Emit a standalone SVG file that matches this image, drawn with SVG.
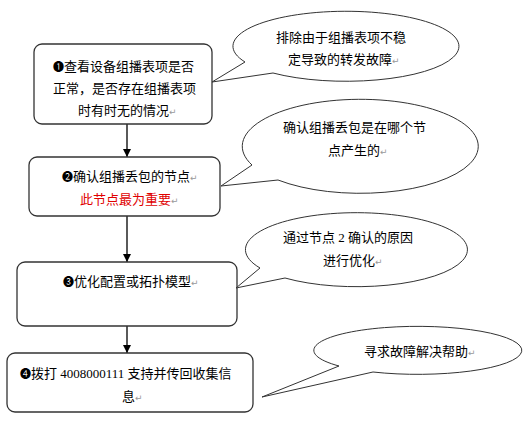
<svg xmlns="http://www.w3.org/2000/svg" width="532" height="427" viewBox="0 0 532 427">
<style>
.box{fill:#fff;stroke:#333;stroke-width:1.3}
.call{fill:#fff;stroke:#333;stroke-width:1}
.t{font-family:"Liberation Serif","Noto Sans CJK SC","DejaVu Sans",sans-serif;font-size:13px;fill:#000}
.red{fill:#e00000}
.pm{fill:#999;font-size:9px}
.n{font-size:11px}
.conn line{stroke:#000;stroke-width:1.3}
</style>
<defs>
<marker id="ah" markerWidth="8" markerHeight="8" refX="8" refY="4" orient="auto" markerUnits="userSpaceOnUse">
<path d="M0,0 L8,4 L0,8 Z" fill="#000"/>
</marker>
</defs>
<rect width="532" height="427" fill="#fff"/>
<g id="connectors" class="conn">
<line x1="127" y1="124" x2="127" y2="157" marker-end="url(#ah)"/>
<line x1="127" y1="216" x2="127" y2="262" marker-end="url(#ah)"/>
<line x1="127" y1="326" x2="127" y2="353" marker-end="url(#ah)"/>
</g>
<g id="node1">
<rect class="box" x="34" y="44" width="178" height="80" rx="8"/>
<text class="t" x="53" y="71"><tspan class="n">❶</tspan>查看设备组播表项是否</text>
<text class="t" x="53" y="93">正常，是否存在组播表项</text>
<text class="t" x="78" y="115">时有时无的情况<tspan class="pm">↵</tspan></text>
</g>
<g id="note1">
<path class="call" d="M273 73 A113 35 0 1 0 245 62 L212 82 Z"/>
<text class="t" x="276" y="42">排除由于组播表项不稳</text>
<text class="t" x="288" y="64">定导致的转发故障<tspan class="pm">↵</tspan></text>
</g>
<g id="node2">
<rect class="box" x="29" y="157" width="191" height="59" rx="8"/>
<text class="t" x="62" y="181"><tspan class="n">❷</tspan>确认组播丢包的节点<tspan class="pm">↵</tspan></text>
<text class="t red" x="80" y="204">此节点最为重要<tspan class="pm">↵</tspan></text>
</g>
<g id="note2">
<path class="call" d="M278 180 A118 47 0 1 0 252 165 L221 186 Z"/>
<text class="t" x="283" y="132">确认组播丢包是在哪个节</text>
<text class="t" x="328" y="155">点产生的<tspan class="pm">↵</tspan></text>
</g>
<g id="node3">
<rect class="box" x="17" y="262" width="220" height="64" rx="8"/>
<text class="t" x="63" y="286"><tspan class="n">❸</tspan>优化配置或拓扑模型<tspan class="pm">↵</tspan></text>
</g>
<g id="note3">
<path class="call" d="M285 278 A111 37 0 1 0 260 268 L236 288 Z"/>
<text class="t" x="283" y="242">通过节点 2 确认的原因</text>
<text class="t" x="323" y="265">进行优化<tspan class="pm">↵</tspan></text>
</g>
<g id="node4">
<rect class="box" x="7" y="353" width="246" height="59" rx="8"/>
<text class="t" x="20" y="378"><tspan class="n">❹</tspan>拨打 4008000111 支持并传回收集信</text>
<text class="t" x="122" y="401">息<tspan class="pm">↵</tspan></text>
</g>
<g id="note4">
<path class="call" d="M373 372 A104 24 0 1 0 339 366 L262 397 Z"/>
<text class="t" x="364" y="356">寻求故障解决帮助<tspan class="pm">↵</tspan></text>
</g>
</svg>
